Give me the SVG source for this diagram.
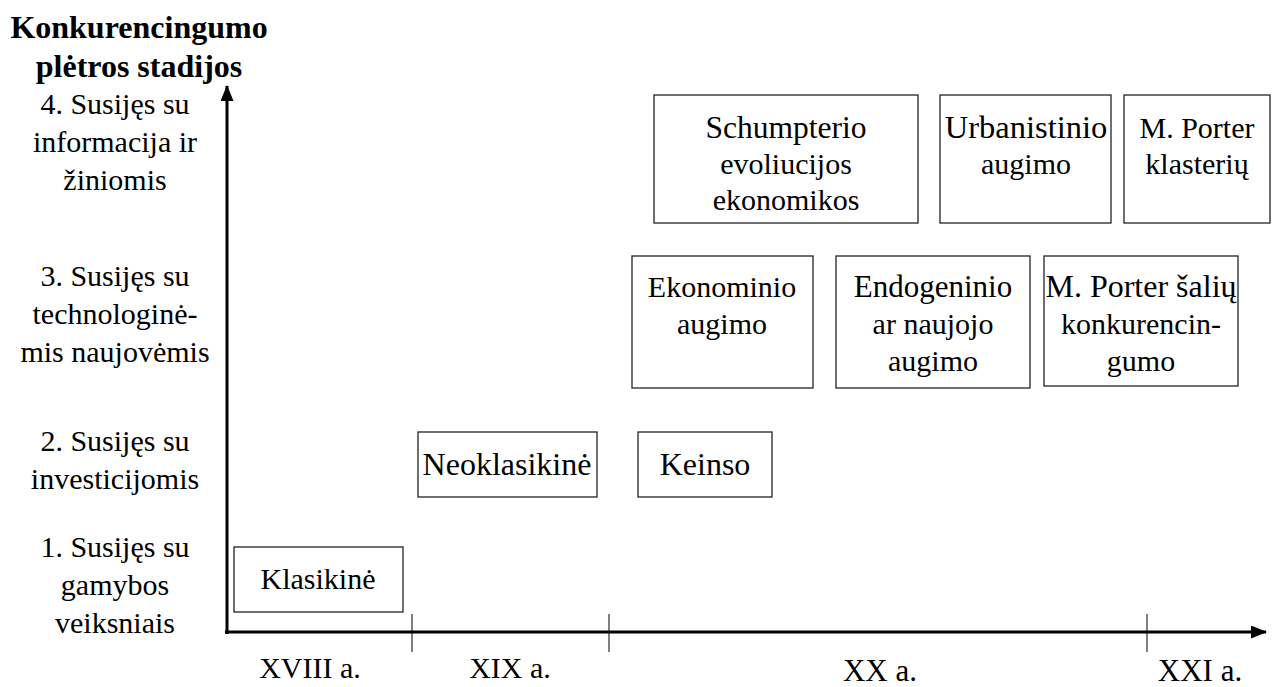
<svg xmlns="http://www.w3.org/2000/svg" width="1272" height="687" viewBox="0 0 1272 687">
  <style>
    .lbl { font-family: 'Liberation Serif', 'DejaVu Serif', serif; font-size: 30px; fill: #000; text-anchor: middle; }
    .big { font-size: 32px; }
    .title { font-family: 'Liberation Serif', 'DejaVu Serif', serif; font-weight: bold; font-size: 32px; fill: #000; text-anchor: middle; }
    .box { fill: #fff; stroke: #222; stroke-width: 1.3; }
    .axis { stroke: #000; stroke-width: 3; fill: none; }
    .tick { stroke: #000; stroke-width: 1; }
  </style>
  <defs>
    <marker id="arrow" markerWidth="16" markerHeight="13" refX="15" refY="6.5" orient="auto" markerUnits="userSpaceOnUse" viewBox="0 0 16 13">
      <path d="M0,0 L16,6.5 L0,13 Z" fill="#000"/>
    </marker>
  </defs>
  <rect width="1272" height="687" fill="#fff"/>

  <!-- axis title -->
  <g id="axis-title">
    <text class="title" x="139" y="38">Konkurencingumo</text>
    <text class="title" x="139" y="77">plėtros stadijos</text>
  </g>

  <!-- stage labels on the vertical axis -->
  <g id="stage-4">
    <text class="lbl" x="115" y="114">4. Susijęs su</text>
    <text class="lbl" x="115" y="152">informacija ir</text>
    <text class="lbl" x="115" y="190">žiniomis</text>
  </g>
  <g id="stage-3">
    <text class="lbl" x="115" y="286">3. Susijęs su</text>
    <text class="lbl" x="115" y="324">technologinė-</text>
    <text class="lbl" x="115" y="362">mis naujovėmis</text>
  </g>
  <g id="stage-2">
    <text class="lbl" x="115" y="451">2. Susijęs su</text>
    <text class="lbl" x="115" y="489">investicijomis</text>
  </g>
  <g id="stage-1">
    <text class="lbl" x="115" y="557">1. Susijęs su</text>
    <text class="lbl" x="115" y="595">gamybos</text>
    <text class="lbl" x="115" y="633">veiksniais</text>
  </g>

  <!-- axes and century ticks -->
  <g id="connectors">
    <line class="axis" x1="227" y1="634" x2="227" y2="86" marker-end="url(#arrow)"/>
    <line class="axis" x1="225" y1="632" x2="1266" y2="632" marker-end="url(#arrow)"/>
    <line class="tick" x1="412" y1="614" x2="412" y2="652"/>
    <line class="tick" x1="609" y1="614" x2="609" y2="652"/>
    <line class="tick" x1="1147" y1="614" x2="1147" y2="652"/>
  </g>

  <!-- century labels -->
  <g id="centuries">
    <text class="lbl" x="310" y="678">XVIII a.</text>
    <text class="lbl" x="510" y="678">XIX a.</text>
    <text class="lbl" x="880" y="681" style="font-size:31px">XX a.</text>
    <text class="lbl" x="1200" y="681" style="font-size:31px">XXI a.</text>
  </g>

  <!-- theories -->
  <g id="klasikine">
    <rect class="box" x="234" y="547" width="169" height="65"/>
    <text class="lbl" x="318" y="589">Klasikinė</text>
  </g>
  <g id="neoklasikine">
    <rect class="box" x="418" y="432" width="179" height="65"/>
    <text class="lbl big" x="507" y="475">Neoklasikinė</text>
  </g>
  <g id="keinso">
    <rect class="box" x="638" y="432" width="134" height="65"/>
    <text class="lbl big" x="705" y="475">Keinso</text>
  </g>
  <g id="ekonominio">
    <rect class="box" x="632" y="256" width="181" height="132"/>
    <text class="lbl" x="722" y="297">Ekonominio</text>
    <text class="lbl" x="722" y="334">augimo</text>
  </g>
  <g id="endogeninio">
    <rect class="box" x="836" y="256" width="194" height="132"/>
    <text class="lbl" x="933" y="297" style="font-size:31px">Endogeninio</text>
    <text class="lbl" x="933" y="334">ar naujojo</text>
    <text class="lbl" x="933" y="371">augimo</text>
  </g>
  <g id="porter-saliu">
    <rect class="box" x="1044" y="256" width="194" height="130"/>
    <text class="lbl big" x="1141" y="297">M. Porter šalių</text>
    <text class="lbl" x="1141" y="334">konkurencin-</text>
    <text class="lbl" x="1141" y="371">gumo</text>
  </g>
  <g id="schumpterio">
    <rect class="box" x="654" y="95" width="264" height="128"/>
    <text class="lbl" x="786" y="138" style="font-size:31.5px">Schumpterio</text>
    <text class="lbl" x="786" y="174">evoliucijos</text>
    <text class="lbl" x="786" y="210">ekonomikos</text>
  </g>
  <g id="urbanistinio">
    <rect class="box" x="940" y="95" width="171" height="128"/>
    <text class="lbl" x="1026" y="138" style="font-size:32.5px">Urbanistinio</text>
    <text class="lbl" x="1026" y="174">augimo</text>
  </g>
  <g id="porter-klasteriu">
    <rect class="box" x="1124" y="95" width="146" height="128"/>
    <text class="lbl" x="1197" y="138">M. Porter</text>
    <text class="lbl" x="1197" y="174">klasterių</text>
  </g>
</svg>
